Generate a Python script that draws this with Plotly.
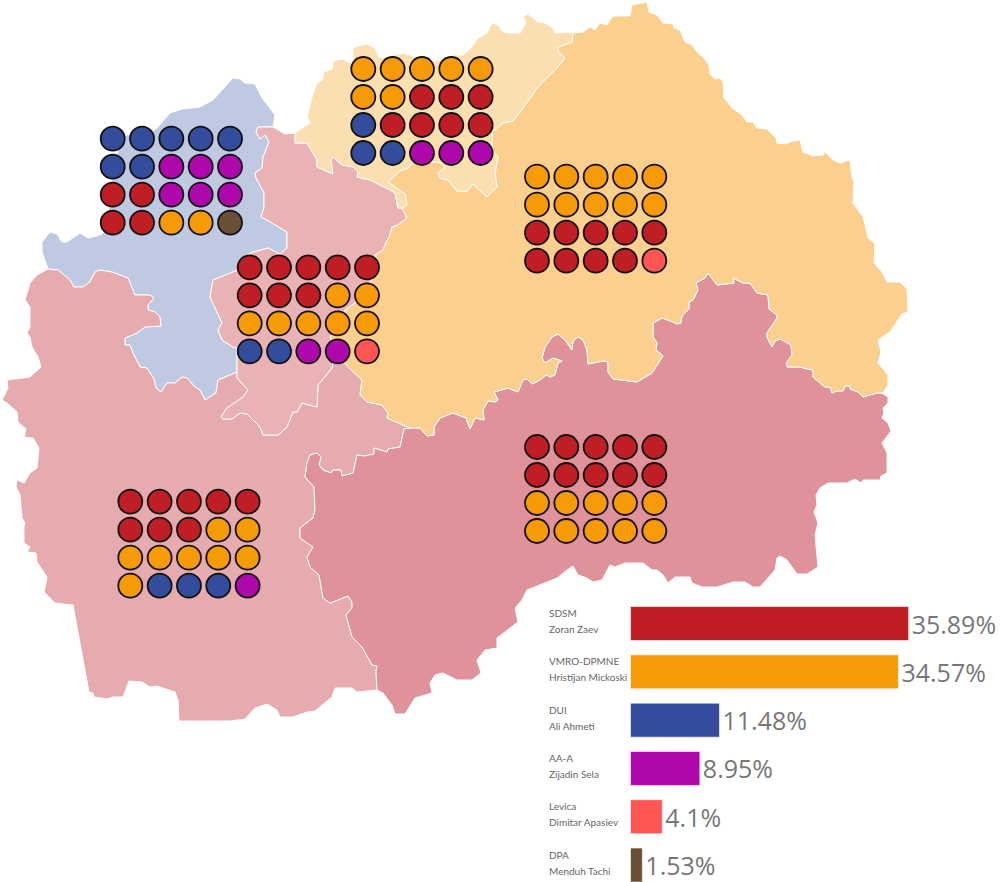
import plotly.graph_objects as go

#----------------------------------------------------------------------
# Party results
#----------------------------------------------------------------------
partidos = ['SDSM', 'VMRO-DPMNE', 'DUI', 'AA-A', 'Levica', 'DPA']
lideres = ['Zoran Zaev', 'Hristijan Mickoski', 'Ali Ahmeti', 'Zijadin Sela', 'Dimitar Apasiev', 'Menduh Tachi']
votos = [35.89, 34.57, 11.48, 8.95, 4.1, 1.53]
cores = ['#BE1E24', '#F79A08', '#344C9C', '#AE08AC', '#FF5555', '#695034']

#----------------------------------------------------------------------
# Seats of each district, row by row (S, V, D, A, L, P = party)
#----------------------------------------------------------------------
seats_oeste = ['DDDDD', 'DDAAA', 'SSAAA', 'SSVVP']
seats_norte = ['VVVVV', 'VVSSS', 'DSSSS', 'DDAAA']
seats_leste = ['VVVVV', 'VVVVV', 'SSSSS', 'SSSSL']
seats_centro = ['SSSSS', 'SSSVV', 'VVVVV', 'DDAAL']
seats_sudeste = ['SSSSS', 'SSSSS', 'VVVVV', 'VVVVV']
seats_sudoeste = ['SSSSS', 'SSSVV', 'VVVVV', 'VDDDA']

#----------------------------------------------------------------------
# District borders, in picture coordinates
#----------------------------------------------------------------------
N_OUT = [(295,133),(296,132),(310,123),(307,117),(312,97),(317,83),(322,80),(324,72),(332,69),(333,61),(342,59),
         (353,64),(353,48),(357,46),(367,44),(375,48),(379,58),(403,53),(410,55),(418,60),(433,62),(452,55),(463,55),
         (472,47),(478,38),(487,33),(492,23),(498,25),(503,32),(510,33),(520,33),(526,23),(523,17),(528,14),(538,22),
         (545,23),(553,28),(555,33),(567,32),(573,33)]
N_E = [(573,33),(572,42),(558,47),(558,52),(565,58),(557,68),(538,87),(523,108),(513,121),(503,123),(492,132),
       (492,150),(498,157),(495,173),(497,187),(487,197),(473,184),(467,191),(457,191),(448,180),(440,178),(438,173),
       (445,168),(443,163),(433,162),(415,160),(408,168),(400,171),(388,182),(405,194),(407,205),(402,208)]
N_C = [(295,133),(295,143),(307,143),(317,160),(317,167),(333,174),(331,160),(333,157),(342,165),(353,167),(358,172),
       (357,177),(370,180),(390,190),(395,193),(398,208),(402,208)]
E_OUT = [(573,33),(583,32),(590,27),(595,30),(600,23),(607,25),(613,16),(630,16),(632,5),(647,2),(649,12),(657,15),
         (663,23),(673,24),(674,28),(680,30),(685,42),(692,45),(697,52),(703,57),(709,65),(710,74),(715,79),(720,78),
         (723,82),(724,98),(732,108),(742,115),(747,122),(753,122),(757,128),(767,129),(776,138),(777,143),(785,144),
         (793,141),(800,140),(803,152),(813,156),(823,155),(825,152),(833,160),(840,163),(850,160),(852,177),(854,182),
         (853,203),(863,217),(866,228),(868,238),(875,243),(874,263),(882,272),(887,282),(900,282),(907,289),(908,312),
         (902,314),(890,332),(878,340),(881,352),(878,363),(888,375),(888,385),(883,393),(877,393),(863,397)]
E_SE = [(863,397),(858,392),(850,389),(850,386),(845,386),(843,391),(837,391),(832,393),(830,387),(825,387),(813,377),
        (813,370),(803,368),(800,367),(787,367),(787,362),(792,355),(791,345),(780,339),(775,341),(772,347),(767,337),
        (767,333),(777,318),(777,315),(769,309),(768,295),(757,293),(750,283),(743,283),(733,278),(734,283),(717,285),
        (708,273),(705,278),(696,283),(698,290),(693,300),(689,302),(689,309),(682,316),(681,323),(677,324),(673,322),
        (662,318),(653,323),(653,337),(657,343),(656,350),(663,356),(652,373),(637,382),(613,379),(608,372),(608,362),
        (603,361),(588,364),(587,350),(583,340),(578,337),(573,341),(572,350),(565,340),(558,334),(552,337),(545,347),
        (542,358),(545,363),(553,358),(562,361),(558,363),(555,375),(550,377),(546,375),(540,380),(532,384),(527,379),
        (523,380),(518,392),(508,388),(494,392),(498,400),(495,402),(488,401),(483,410),(484,420),(475,418),(470,429),
        (466,418),(453,413),(440,418),(434,427),(434,435),(427,436),(420,428),(410,428)]
E_SW = [(410,428),(387,418),(388,413),(382,405),(367,402),(360,395),(362,380),(348,367),(335,350)]
E_C = [(335,350),(330,337),(343,325),(345,310),(355,303),(372,280),(375,255),(383,250),(387,240),(389,238),(392,227),
       (398,225),(407,218),(402,208)]
SE_OUT = [(863,397),(877,393),(882,393),(888,397),(888,403),(883,408),(884,413),(882,418),(888,423),(891,431),(882,443),
          (887,453),(887,473),(881,476),(880,480),(863,480),(861,483),(855,479),(847,483),(828,483),(820,488),(816,495),
          (817,505),(814,512),(818,523),(815,535),(818,567),(807,574),(797,574),(787,560),(780,556),(777,558),(775,570),
          (765,582),(760,587),(753,587),(745,582),(733,582),(717,587),(702,587),(692,583),(690,577),(675,577),(668,583),
          (663,575),(657,570),(652,570),(643,563),(625,563),(615,567),(610,565),(602,580),(593,582),(587,578),(578,575),
          (573,566),(567,570),(557,578),(527,590),(522,600),(515,608),(518,622),(497,638),(497,648),(485,650),(477,660),
          (481,673),(472,680),(457,680),(443,673),(435,675),(430,683),(432,693),(415,698),(405,714),(395,714),(392,705),
          (383,693),(377,690)]
SE_SW = [(377,690),(376,671),(377,666),(372,665),(362,647),(352,637),(346,615),(352,608),(352,602),(348,596),(330,603),
         (323,598),(319,575),(310,567),(307,557),(313,547),(300,538),(300,528),(313,518),(315,510),(314,487),(305,477),
         (307,463),(310,455),(317,453),(321,457),(319,465),(323,470),(331,473),(333,470),(341,470),(342,476),(353,473),
         (357,455),(364,456),(374,454),(374,448),(387,452),(388,449),(400,447),(404,429),(410,428)]
SW_OUT = [(377,690),(357,692),(352,688),(335,688),(332,697),(315,711),(307,712),(293,717),(280,717),(277,710),(267,704),
          (255,708),(245,719),(230,721),(179,721),(178,700),(175,692),(157,686),(150,687),(142,682),(129,681),(123,697),
          (113,697),(107,699),(94,697),(93,693),(89,692),(73,605),(55,603),(44,592),(47,577),(37,562),(36,553),(27,552),
          (30,547),(24,543),(24,527),(25,523),(22,518),(20,495),(16,487),(17,480),(24,483),(30,473),(37,468),(39,448),
          (33,438),(24,437),(26,429),(18,422),(17,412),(7,403),(2,400),(8,388),(7,380),(30,377),(41,367),(38,357),(32,347),
          (30,337),(27,333),(30,327),(30,307),(25,300),(30,283),(37,275),(48,269)]
B_SW = [(48,269),(58,270),(70,280),(74,287),(83,287),(90,282),(95,272),(100,270),(112,272),(128,278),(135,295),(150,295),
        (154,298),(148,305),(148,310),(155,312),(160,317),(161,326),(145,327),(137,333),(125,338),(125,345),(130,345),
        (133,353),(140,367),(147,368),(154,379),(156,388),(161,392),(167,383),(175,383),(182,377),(187,378),(195,387),
        (200,390),(205,400),(216,393),(218,380),(237,372)]
C_SW = [(237,372),(237,378),(248,390),(243,397),(227,408),(221,417),(223,419),(232,419),(240,413),(247,414),(260,427),
        (263,435),(278,435),(287,427),(293,412),(297,412),(302,403),(317,407),(318,385),(332,368),(335,350)]
B_C = [(237,372),(237,348),(233,347),(222,340),(218,330),(222,323),(210,297),(213,280),(238,270),(250,253),(268,248),
       (280,254),(287,248),(287,232),(267,220),(261,217),(264,207),(264,193),(256,178),(255,173),(262,168),(263,157),
       (269,142),(265,135),(260,139),(256,132),(258,127),(273,127)]
B_OUT = [(48,269),(42,252),(42,242),(50,232),(57,234),(62,242),(67,242),(80,233),(88,238),(100,235),(103,233),(108,215),
         (112,180),(118,150),(125,135),(148,135),(157,128),(170,113),(182,109),(200,107),(213,100),(222,90),(233,78),
         (240,79),(245,83),(255,84),(262,98),(275,115),(273,127)]
C_OUT = [(273,127),(285,134),(295,133)]

#----------------------------------------------------------------------

def inv(s):
    return s[::-1]

distritos = [
    (B_OUT + inv(B_C) + inv(B_SW), '#C0C9E2'),
    (SW_OUT + B_SW + C_SW + inv(E_SW) + inv(SE_SW), '#E6ABAE'),
    (B_C + C_OUT + N_C + inv(E_C) + inv(C_SW), '#E9B2B5'),
    (SE_OUT + SE_SW + inv(E_SE), '#E0929A'),
    (E_OUT + E_SE + E_SW + E_C + inv(N_E), '#FBCF8E'),
    (N_OUT + N_E + inv(N_C), '#FBDFB0'),
]

# top-left seat of each block
blocos = [
    (seats_oeste, 112.7, 138.7),
    (seats_norte, 363.3, 69.0),
    (seats_leste, 537.0, 176.7),
    (seats_centro, 249.7, 267.3),
    (seats_sudeste, 537.0, 447.0),
    (seats_sudoeste, 130.3, 501.7),
]
cor_letra = dict(zip('SVDALP', cores))

fig = go.Figure()

for pts, cor in distritos:
    fig.add_trace(go.Scatter(x = [p[0] for p in pts], y = [p[1] for p in pts], mode = 'lines', fill = 'toself',
                             fillcolor = cor, line = dict(color = 'white', width = 1), hoverinfo = 'skip', showlegend = False))

for seats, x0, y0 in blocos:
    sx = []; sy = []; sc = []
    for i, linha in enumerate(seats):
        for j, letra in enumerate(linha):
            sx.append(x0 + j*29.33)
            sy.append(y0 + i*28.0)
            sc.append(cor_letra[letra])
    fig.add_trace(go.Scatter(x = sx, y = sy, mode = 'markers', showlegend = False, hoverinfo = 'skip',
                             marker = dict(size = 24, color = sc, line = dict(color = '#111111', width = 1.8))))

fig.add_trace(go.Bar(x = votos, y = partidos, orientation = 'h', xaxis = 'x2', yaxis = 'y2', width = 0.704,
                     marker = dict(color = cores, line = dict(color = 'rgba(255,255,255,0.6)', width = 1)),
                     text = [str(v) + '%' for v in votos], textposition = 'outside', cliponaxis = False,
                     textfont = dict(family = 'Open Sans', size = 25, color = '#777777'),
                     hoverinfo = 'skip', showlegend = False))

#----------------------------------------------------------------------

for i in range(len(partidos)):
    yc = 622.5 + i*48.3
    fig.add_annotation(x = 547, y = yc - 9.5, text = partidos[i], xref = 'x', yref = 'y', xanchor = 'left', showarrow = False,
                       font = dict(family = 'Lato', size = 10, color = '#666666'))
    fig.add_annotation(x = 547, y = yc + 6.5, text = lideres[i], xref = 'x', yref = 'y', xanchor = 'left', showarrow = False,
                       font = dict(family = 'Lato', size = 10, color = '#666666'))

fig.update_layout(width = 1000, height = 882, margin = dict(l = 0, r = 0, t = 0, b = 0), autosize = False,
                  paper_bgcolor = 'white', plot_bgcolor = 'rgba(0,0,0,0)', showlegend = False,
                  xaxis = dict(range = [0, 1000], visible = False, domain = [0, 1]),
                  yaxis = dict(range = [882, 0], visible = False, domain = [0, 1]),
                  xaxis2 = dict(range = [0, 369.5/7.75], visible = False, domain = [0.6305, 1], anchor = 'y2'),
                  yaxis2 = dict(range = [5.351, -0.5], visible = False, domain = [0, 0.3204], anchor = 'x2',
                                type = 'category', categoryorder = 'array', categoryarray = partidos))

# the page's default body margin would push the 1000x882 figure out of the window
fig.write_html("out.html", config = dict(displayModeBar = False), post_script = "document.body.style.margin = '0';")
